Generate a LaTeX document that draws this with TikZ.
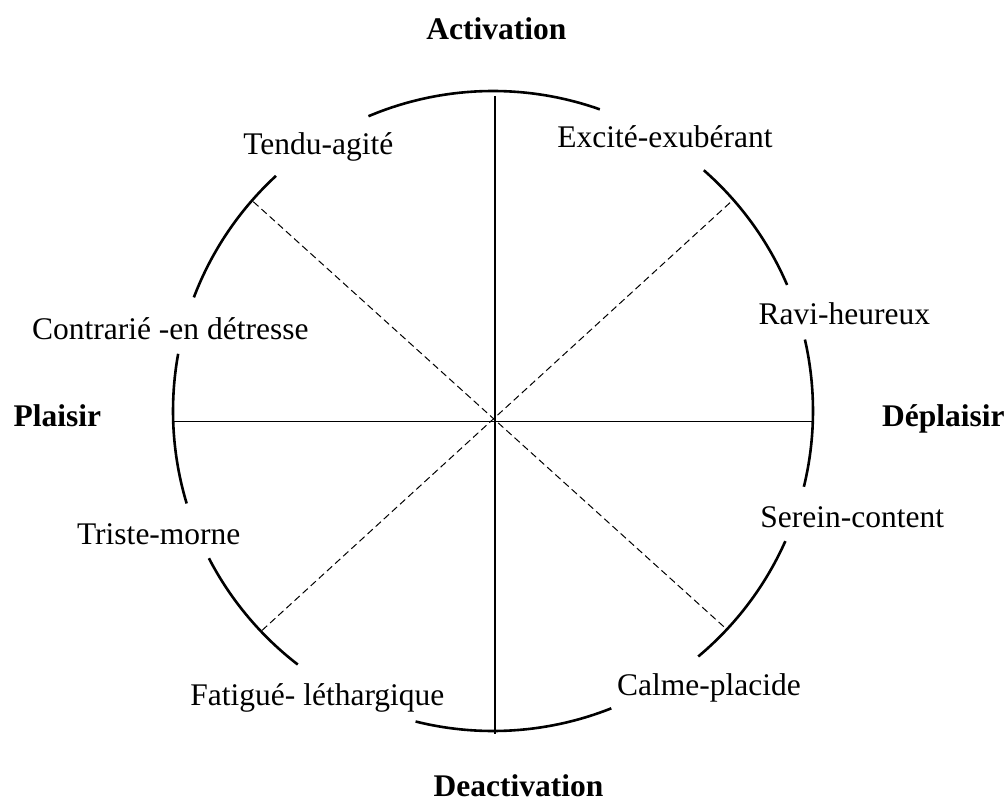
\documentclass[tikz,border=0pt]{standalone}
\usepackage{fontspec}
\setmainfont{Liberation Serif}

\begin{document}
\begin{tikzpicture}[x=0.5pt ,y=-0.5pt ,
rim/.style ={line width=1.3pt},
axis/.style ={line width=0.65pt},
diag/.style ={line width=0.5pt , dash pattern=on 3.5pt off 2pt},
mood/.style ={anchor=base west , inner sep=0pt , font=\fontsize{15.75}{18}\selectfont},
pole/.style ={mood , font=\fontsize{15.75}{18}\selectfont\bfseries}]
\useasboundingbox (0,0) rectangle (1006,801);
\coordinate (O) at (493,411);
\coordinate (N) at (495,96);
\coordinate (S) at (495,734);
\coordinate (W) at (172.7,421.7);
\coordinate (E) at (812.7,421.7);
\coordinate (NW) at (253.3,201.7);
\coordinate (NE) at (730,202.7);
\coordinate (SW) at (261.7,630.7);
\coordinate (SE) at (726.7,629.3);
\draw[axis] (W) -- (E);
\draw[axis] (N) -- (S);
\draw[diag] (NW) -- (SE);
\draw[diag] (NE) -- (SW);
% circle, broken behind the labels
\foreach \sa/\ea in {70.5/112.9, 132.7/159.2, 169.7/196.8, 207.4/232.4,
  256/291.7, 309.9/336, 346.3/372.9, 23.2/48.8}
  \draw[rim] (O) ++(-\sa:320) arc[start angle=-\sa, end angle=-\ea, radius=320];

\node[pole] (act) at (426,40) {Activation};
\node[pole] (deact) at (433.3,796) {Deactivation};
\node[pole] (plai) at (13.3,426.7) {Plaisir};
\node[pole] (deplai) at (881.7,426.7) {Déplaisir};

\node[mood] (M1) at (243,155) {Tendu-agité};
\node[mood] (M2) at (557,148) {Excité-exubérant};
\node[mood] (M3) at (758.3,325) {Ravi-heureux};
\node[mood] (M4) at (760,527.3) {Serein-content};
\node[mood] (M5) at (616.7,695) {Calme-placide};
\node[mood] (M6) at (190,705) {Fatigué- léthargique};
\node[mood] (M7) at (76.7,545) {Triste-morne};
\node[mood] (M8) at (31.7,340) {Contrarié -en détresse};
\end{tikzpicture}
\end{document}
